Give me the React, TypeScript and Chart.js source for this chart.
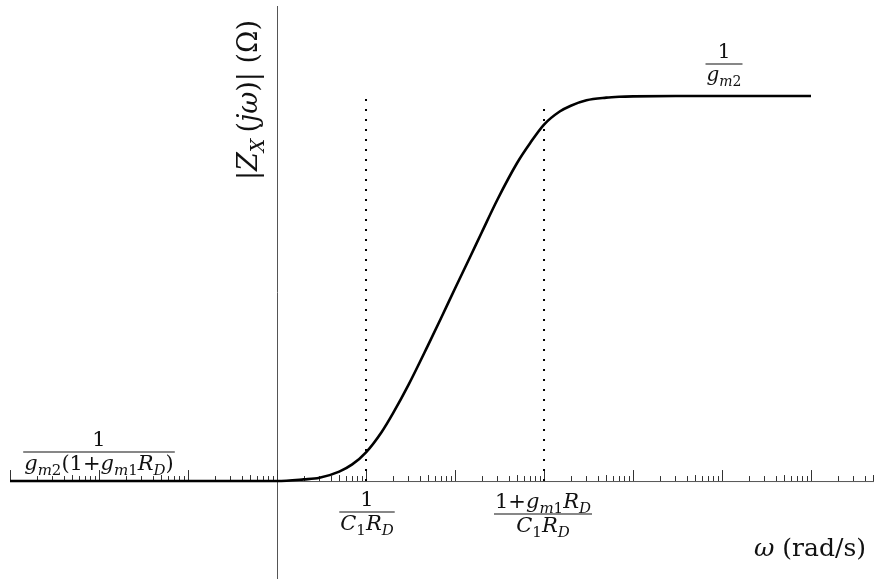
import React, { useEffect, useRef } from "react";
import { Chart, registerables } from "chart.js";

Chart.register(...registerables);

// ---- data ----
const omega = [0.001, 0.01, 0.1, 1, 2, 3, 5, 7, 10, 15, 20, 30, 50, 70, 100, 150, 200, 300, 500, 700, 1000, 1500, 2000, 3000, 5000, 7000, 10000, 30000, 100000, 1000000];
const magnitude = [0.01, 0.01, 0.01, 0.01, 0.0102, 0.0104, 0.0112, 0.0122, 0.0141, 0.018, 0.0224, 0.0316, 0.051, 0.0705, 0.1, 0.148, 0.196, 0.29, 0.45, 0.57, 0.71, 0.83, 0.89, 0.95, 0.98, 0.99, 0.995, 1, 1, 1];

const zeroFreq = 10; // 1/(C1 RD)
const poleFreq = 1000; // (1+gm1 RD)/(C1 RD)
const lowLevel = 0.01;
const zeroMarkerTop = 1.03;
const poleMarkerTop = 0.93;

const decades = [0.001, 0.01, 0.1, 1, 10, 100, 1000, 10000, 100000, 1000000];
const minorMultipliers = [2, 3, 4, 5, 6, 7, 8, 9];

const xMin = 7.72e-4;
const xMax = 5.1e6;
const yMin = 0.0031;
const yMax = 3.15;

type Seg = { t: string; i?: boolean; sub?: boolean };

const FONT = '"DejaVu Serif"';

function segFont(s: Seg, size: number) {
  const sz = s.sub ? Math.round(size * 0.7) : size;
  return `${s.i ? "italic " : ""}${sz}px ${FONT}`;
}

function richWidth(ctx: CanvasRenderingContext2D, segs: Seg[], size: number) {
  let w = 0;
  for (const s of segs) {
    ctx.font = segFont(s, size);
    w += ctx.measureText(s.t).width;
  }
  return w;
}

function drawRich(ctx: CanvasRenderingContext2D, segs: Seg[], cx: number, baseline: number, size: number) {
  const total = richWidth(ctx, segs, size);
  let x = cx - total / 2;
  ctx.textAlign = "left";
  ctx.textBaseline = "alphabetic";
  for (const s of segs) {
    ctx.font = segFont(s, size);
    ctx.fillText(s.t, x, baseline + (s.sub ? size * 0.25 : 0));
    x += ctx.measureText(s.t).width;
  }
  return total;
}

function drawFrac(ctx: CanvasRenderingContext2D, num: Seg[], den: Seg[], cx: number, barY: number, size: number) {
  const wn = richWidth(ctx, num, size);
  const wd = richWidth(ctx, den, size);
  const w = Math.max(wn, wd) + 2;
  ctx.save();
  ctx.strokeStyle = "#111";
  ctx.lineWidth = 1.2;
  ctx.beginPath();
  ctx.moveTo(cx - w / 2, barY);
  ctx.lineTo(cx + w / 2, barY);
  ctx.stroke();
  ctx.restore();
  drawRich(ctx, num, cx, barY - size * 0.3, size);
  drawRich(ctx, den, cx, barY + size * 0.85, size);
}

const axesPlugin = {
  id: "axesPlugin",
  beforeDatasetsDraw(chart: any) {
    const ctx: CanvasRenderingContext2D = chart.ctx;
    const xs = chart.scales.x;
    const ys = chart.scales.y;
    const y0 = ys.getPixelForValue(lowLevel);
    const x0 = xs.getPixelForValue(1);
    ctx.save();
    ctx.strokeStyle = "#555";
    ctx.lineWidth = 1;
    // x axis
    ctx.beginPath();
    ctx.moveTo(xs.getPixelForValue(decades[0]), y0 + 0.5);
    ctx.lineTo(chart.chartArea.right, y0 + 0.5);
    ctx.stroke();
    // y axis
    ctx.beginPath();
    ctx.moveTo(Math.round(x0) + 0.5, chart.chartArea.top + 6);
    ctx.lineTo(Math.round(x0) + 0.5, chart.chartArea.bottom);
    ctx.stroke();
    // ticks
    ctx.strokeStyle = "#333";
    for (const d of decades) {
      const px = Math.round(xs.getPixelForValue(d)) + 0.5;
      ctx.beginPath();
      ctx.moveTo(px, y0);
      ctx.lineTo(px, y0 - 11);
      ctx.stroke();
      for (const m of minorMultipliers) {
        const v = d * m;
        if (v > xMax) continue;
        const pm = Math.round(xs.getPixelForValue(v)) + 0.5;
        ctx.beginPath();
        ctx.moveTo(pm, y0);
        ctx.lineTo(pm, y0 - (m === 5 ? 6 : 5));
        ctx.stroke();
      }
    }
    ctx.restore();
  },
  afterDraw(chart: any) {
    const ctx: CanvasRenderingContext2D = chart.ctx;
    ctx.save();
    ctx.fillStyle = "#111";
    // top-right 1/gm2
    drawFrac(ctx, [{ t: "1" }], [{ t: "g", i: true }, { t: "m", i: true, sub: true }, { t: "2", sub: true }], 724, 64, 20);
    // left 1/(gm2(1+gm1 RD))
    drawFrac(
      ctx,
      [{ t: "1" }],
      [
        { t: "g", i: true }, { t: "m", i: true, sub: true }, { t: "2", sub: true },
        { t: "(1+" }, { t: "g", i: true }, { t: "m", i: true, sub: true }, { t: "1", sub: true },
        { t: "R", i: true }, { t: "D", i: true, sub: true }, { t: ")" },
      ],
      99, 452, 21
    );
    // 1/(C1 RD)
    drawFrac(ctx, [{ t: "1" }], [{ t: "C", i: true }, { t: "1", sub: true }, { t: "R", i: true }, { t: "D", i: true, sub: true }], 367, 512, 21);
    // (1+gm1 RD)/(C1 RD)
    drawFrac(
      ctx,
      [{ t: "1+" }, { t: "g", i: true }, { t: "m", i: true, sub: true }, { t: "1", sub: true }, { t: "R", i: true }, { t: "D", i: true, sub: true }],
      [{ t: "C", i: true }, { t: "1", sub: true }, { t: "R", i: true }, { t: "D", i: true, sub: true }],
      543, 514, 21
    );
    // x label
    drawRich(ctx, [{ t: "ω", i: true }, { t: " (rad/s)" }], 810, 556, 25);
    // y label (rotated)
    ctx.translate(257, 100);
    ctx.rotate(-Math.PI / 2);
    drawRich(
      ctx,
      [{ t: "|" }, { t: "Z", i: true }, { t: "X ", i: true, sub: true }, { t: "(" }, { t: "j", i: true }, { t: "ω", i: true }, { t: ")" }, { t: "| (Ω)" }],
      0, 0, 27
    );
    ctx.restore();
  },
};

export default function App() {
  const ref = useRef<HTMLCanvasElement | null>(null);
  useEffect(() => {
    if (!ref.current) return;
    const curve = omega.map((w, i) => ({ x: w, y: magnitude[i] }));
    const chart = new Chart(ref.current, {
      type: "line",
      data: {
        datasets: [
          {
            label: "|Zx(jω)|",
            data: curve,
            borderColor: "#000",
            borderWidth: 2.6,
            pointRadius: 0,
            cubicInterpolationMode: "monotone",
            fill: false,
          },
          {
            label: "1/(C1RD)",
            data: [{ x: zeroFreq, y: lowLevel }, { x: zeroFreq, y: zeroMarkerTop }],
            borderColor: "#000",
            borderWidth: 2,
            borderDash: [2, 8],
            pointRadius: 0,
          },
          {
            label: "(1+gm1RD)/(C1RD)",
            data: [{ x: poleFreq, y: lowLevel }, { x: poleFreq, y: poleMarkerTop }],
            borderColor: "#000",
            borderWidth: 2,
            borderDash: [2, 8],
            pointRadius: 0,
          },
        ],
      },
      options: {
        animation: false,
        responsive: false,
        maintainAspectRatio: false,
        layout: { padding: 0 },
        plugins: { legend: { display: false }, tooltip: { enabled: false } },
        scales: {
          x: { type: "logarithmic", min: xMin, max: xMax, bounds: "data", display: false },
          y: { type: "logarithmic", min: yMin, max: yMax, bounds: "data", display: false },
        },
      },
      plugins: [axesPlugin],
    });
    return () => chart.destroy();
  }, []);
  return (
    <div style={{ position: "fixed", left: 0, top: 0, width: 874, height: 579, background: "#fff" }}>
      <canvas ref={ref} width={874} height={579} />
    </div>
  );
}
